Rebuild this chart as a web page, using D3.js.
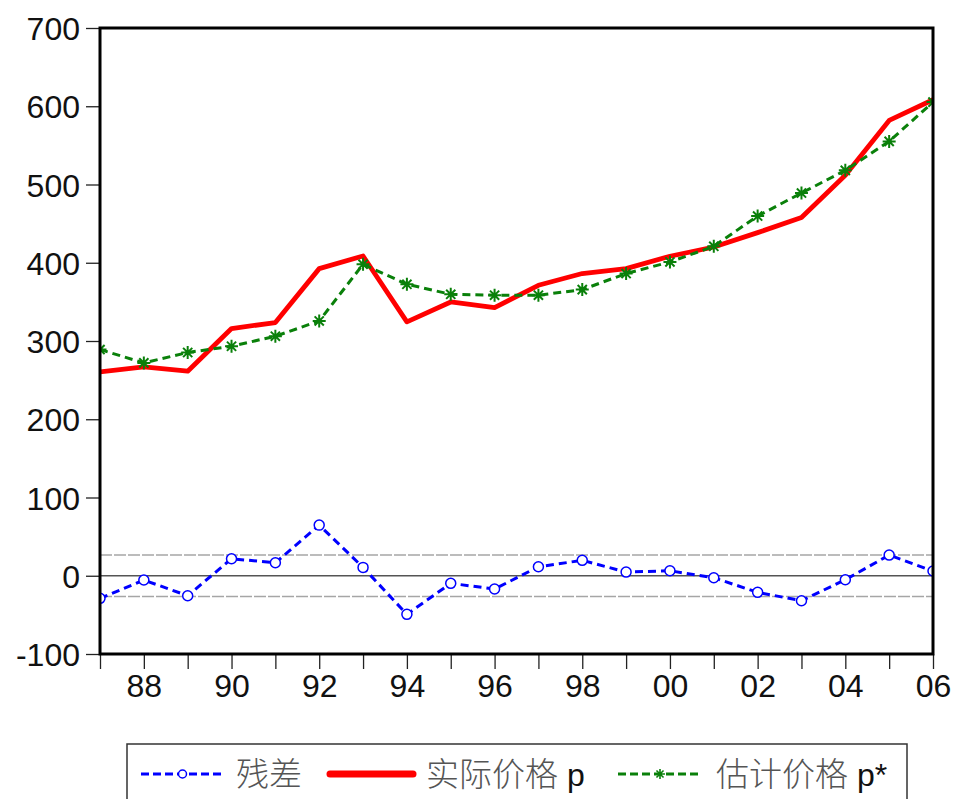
<!DOCTYPE html>
<html>
<head>
<meta charset="utf-8">
<script src="https://cdn.jsdelivr.net/npm/d3@7"></script>
<style>
  body { margin: 0; background: #fff; }
  svg { display: block; }
  .tick text { font-family: "Liberation Sans", Arial, sans-serif; }
</style>
</head>
<body>
<div id="chart"></div>
<script>
// years 1987 - 2006
const years = [1987, 1988, 1989, 1990, 1991, 1992, 1993, 1994, 1995, 1996,
               1997, 1998, 1999, 2000, 2001, 2002, 2003, 2004, 2005, 2006];

// 实际价格 p
const actual = [260.5, 266.9, 261.4, 315.9, 323.6, 392.5, 408.6, 324.4, 349.9, 342.7,
                371.2, 386.2, 392.5, 408.3, 420.1, 438.5, 457.7, 511.7, 581.9, 608.3];

// 估计价格 p*
const fitted = [289.1, 272.0, 285.3, 293.3, 306.1, 325.6, 398.0, 372.5, 359.7, 358.5,
                358.5, 365.7, 386.2, 401.0, 421.0, 459.7, 489.1, 518.1, 555.1, 605.3];

// 残差
const resid = [-28.9, -5.5, -25.5, 21.7, 16.6, 64.7, 10.7, -49.3, -9.7, -17.0,
               11.5, 19.7, 4.7, 6.4, -2.6, -21.2, -31.9, -5.1, 26.4, 6.0];

// +/- one standard error band of the residuals
const residBand = [26.6, -26.6];

const yTicks = [-100, 0, 100, 200, 300, 400, 500, 600, 700];
const legendNames = ["残差", "实际价格 p", "估计价格 p*"];

const width = 955, height = 799;
const plotLeft = 100, plotRight = 933, plotTop = 28, plotBottom = 654;

const svg = d3.select("#chart")
    .append("svg")
    .attr("width", width)
    .attr("height", height);

const x = d3.scaleLinear()
    .domain([1987, 2006])
    .range([plotLeft, plotRight]);

const y = d3.scaleLinear()
    .domain([-100, 700])
    .range([plotBottom, plotTop]);

svg.append("defs")
    .append("clipPath")
    .attr("id", "plotclip")
    .append("rect")
    .attr("x", plotLeft)
    .attr("y", plotTop)
    .attr("width", plotRight - plotLeft)
    .attr("height", plotBottom - plotTop);

// y axis
const yAxis = svg.append("g")
    .attr("transform", "translate(" + plotLeft + ",0)")
    .call(d3.axisLeft(y)
        .tickValues(yTicks)
        .tickSize(14)
        .tickPadding(6)
        .tickFormat(d => String(d)));
yAxis.select(".domain").remove();
yAxis.selectAll(".tick line").attr("stroke", "#222").attr("stroke-width", 1.3);
yAxis.selectAll(".tick text")
    .attr("font-size", 32)
    .attr("fill", "#111")
    .attr("dy", "0.36em");

// x axis
const xAxis = svg.append("g")
    .attr("transform", "translate(0," + plotBottom + ")")
    .call(d3.axisBottom(x)
        .tickValues(years)
        .tickSize(15)
        .tickPadding(5)
        .tickFormat(function(d) {
            return d % 2 == 0 ? String(d).slice(2) : "";
        }));
xAxis.select(".domain").remove();
xAxis.selectAll(".tick line").attr("stroke", "#222").attr("stroke-width", 1.3);
xAxis.selectAll(".tick text")
    .attr("font-size", 32)
    .attr("fill", "#111");

const plot = svg.append("g").attr("clip-path", "url(#plotclip)");

// reference lines
plot.append("line")
    .attr("x1", plotLeft).attr("x2", plotRight)
    .attr("y1", y(0)).attr("y2", y(0))
    .attr("stroke", "#555")
    .attr("stroke-width", 1.6);

plot.selectAll("line.band")
    .data(residBand)
    .enter()
    .append("line")
    .attr("class", "band")
    .attr("x1", plotLeft).attr("x2", plotRight)
    .attr("y1", d => y(d)).attr("y2", d => y(d))
    .attr("stroke", "#a6a6a6")
    .attr("stroke-width", 1.5)
    .attr("stroke-dasharray", "12,2");

const line = d3.line()
    .x((d, i) => x(years[i]))
    .y(d => y(d));

// actual price
plot.append("path")
    .datum(actual)
    .attr("fill", "none")
    .attr("stroke", "#ff0000")
    .attr("stroke-width", 4.8)
    .attr("stroke-linejoin", "round")
    .attr("d", line);

// fitted price
plot.append("path")
    .datum(fitted)
    .attr("fill", "none")
    .attr("stroke", "#0a800a")
    .attr("stroke-width", 3)
    .attr("stroke-dasharray", "8,5")
    .attr("d", line);

function asterisk(r) {
    let p = "";
    for (let k = 0; k < 4; k++) {
        const a = k * Math.PI / 4;
        const dx = Math.cos(a) * r, dy = Math.sin(a) * r;
        p += "M" + (-dx) + "," + (-dy) + "L" + dx + "," + dy;
    }
    return p;
}

plot.selectAll("path.star")
    .data(fitted)
    .enter()
    .append("path")
    .attr("class", "star")
    .attr("transform", (d, i) => "translate(" + x(years[i]) + "," + y(d) + ")")
    .attr("d", asterisk(6.5))
    .attr("stroke", "#0a800a")
    .attr("stroke-width", 2);

// residual
plot.append("path")
    .datum(resid)
    .attr("fill", "none")
    .attr("stroke", "#0000ff")
    .attr("stroke-width", 3)
    .attr("stroke-dasharray", "8,5")
    .attr("d", line);

plot.selectAll("circle.res")
    .data(resid)
    .enter()
    .append("circle")
    .attr("class", "res")
    .attr("cx", (d, i) => x(years[i]))
    .attr("cy", d => y(d))
    .attr("r", 5)
    .attr("fill", "#fff")
    .attr("stroke", "#0000ff")
    .attr("stroke-width", 1.5);

// frame
svg.append("rect")
    .attr("x", plotLeft)
    .attr("y", plotTop)
    .attr("width", plotRight - plotLeft)
    .attr("height", plotBottom - plotTop)
    .attr("fill", "none")
    .attr("stroke", "#000")
    .attr("stroke-width", 3);

// legend
const legend = svg.append("g");
legend.append("rect")
    .attr("x", 127)
    .attr("y", 744)
    .attr("width", 780)
    .attr("height", 70)
    .attr("fill", "#fff")
    .attr("stroke", "#333")
    .attr("stroke-width", 1.5);

const ly = 774;
const items = [
    { x0: 141, x1: 224, tx: 236, color: "#0000ff", w: 3, dash: "8,4", mark: "circle" },
    { x0: 330, x1: 413, tx: 426, color: "#ff0000", w: 7, dash: null, mark: null },
    { x0: 618, x1: 702, tx: 716, color: "#0a800a", w: 3, dash: "8,4", mark: "star" }
];

items.forEach(function(it, i) {
    legend.append("line")
        .attr("x1", it.x0).attr("x2", it.x1)
        .attr("y1", ly).attr("y2", ly)
        .attr("stroke", it.color)
        .attr("stroke-width", it.w)
        .attr("stroke-linecap", it.dash ? "butt" : "round")
        .attr("stroke-dasharray", it.dash);
    const cx = (it.x0 + it.x1) / 2;
    if (it.mark == "circle") {
        legend.append("circle")
            .attr("cx", cx).attr("cy", ly).attr("r", 4)
            .attr("fill", "#fff").attr("stroke", it.color).attr("stroke-width", 1.5);
    } else if (it.mark == "star") {
        legend.append("path")
            .attr("transform", "translate(" + cx + "," + ly + ")")
            .attr("d", asterisk(5))
            .attr("stroke", it.color).attr("stroke-width", 1.6);
    }
    const name = legendNames[i];
    const sp = name.indexOf(" ");
    const t = legend.append("text")
        .attr("x", it.tx)
        .attr("y", ly + 12)
        .attr("font-size", 33);
    t.append("tspan")
        .attr("font-family", "'Noto Sans CJK SC', sans-serif")
        .attr("font-weight", 300)
        .attr("fill", "#555")
        .text(sp < 0 ? name : name.slice(0, sp));
    if (sp >= 0) {
        t.append("tspan")
            .attr("font-family", "'Liberation Sans', Arial, sans-serif")
            .attr("font-size", 32)
            .attr("fill", "#111")
            .text(" " + name.slice(sp + 1));
    }
});
</script>
</body>
</html>
